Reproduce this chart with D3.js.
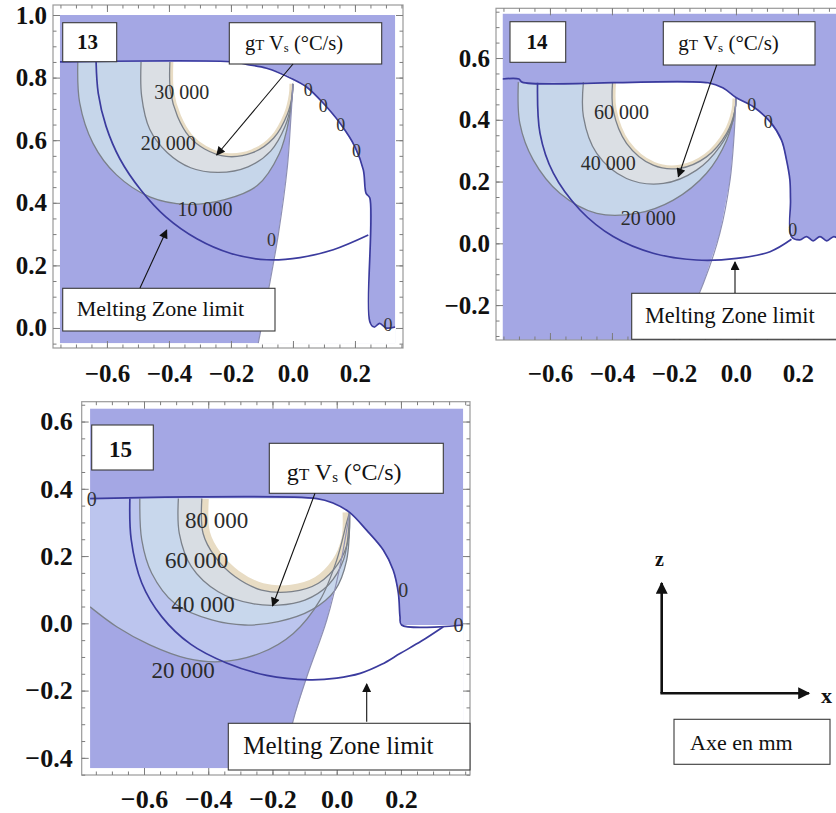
<!DOCTYPE html>
<html><head><meta charset="utf-8">
<script src="https://cdn.jsdelivr.net/npm/d3@7"></script>
<style>
body{margin:0;background:#fff}
svg text{font-family:"Liberation Serif","Tinos","DejaVu Serif","Noto Serif",serif !important;}
</style>
</head><body>
<svg id="c" width="836" height="813"></svg>
<script>
// ================= DATA (x, z in mm) =================
const xTicks = [-0.6, -0.4, -0.2, 0.0, 0.2];
const yTicks13 = [0.0, 0.2, 0.4, 0.6, 0.8, 1.0];
const yTicks14 = [-0.2, 0.0, 0.2, 0.4, 0.6];
const yTicks15 = [-0.4, -0.2, 0.0, 0.2, 0.4, 0.6];

// ---- panel 13 ----
const surface13 = [[-0.752,0.85],[-0.19,0.85]];
const cap13 = [[-0.19,0.85],[-0.149,0.842],[-0.085,0.83],[0.0,0.795]];
const rim13 = [[0.0,0.795],[0.044,0.77],[0.098,0.718],[0.152,0.654],[0.2,0.579],[0.227,0.505],[0.236,0.43],[0.248,0.415],[0.248,0.02],[0.262,0.003],[0.28,0.015],[0.3,0.0],[0.33,0.003]];
const diag13 = [[0.0,0.78],[-0.008,0.65],[-0.018,0.515],[-0.047,0.30],[-0.085,0.089],[-0.112,-0.049]];
const melt13 = [[-0.635,0.85],[-0.628,0.75],[-0.603,0.645],[-0.558,0.54],[-0.49,0.44],[-0.41,0.355],[-0.31,0.285],[-0.2,0.238],[-0.085,0.218],[0.023,0.225],[0.13,0.25],[0.243,0.297]];
const c13_10 = [[-0.694,0.85],[-0.688,0.72],[-0.645,0.59],[-0.57,0.49],[-0.46,0.418],[-0.343,0.395],[-0.22,0.41],[-0.115,0.455],[-0.045,0.555],[-0.012,0.67],[0.0,0.78]];
const c13_20 = [[-0.49,0.85],[-0.488,0.74],[-0.462,0.635],[-0.405,0.56],[-0.33,0.512],[-0.24,0.497],[-0.145,0.515],[-0.072,0.565],[-0.025,0.645],[-0.005,0.72],[0.0,0.78]];
const c13_30 = [[-0.397,0.85],[-0.395,0.755],[-0.372,0.675],[-0.335,0.612],[-0.285,0.572],[-0.215,0.548],[-0.13,0.56],[-0.062,0.607],[-0.018,0.683],[-0.002,0.745],[0.0,0.78]];
const levels13 = ["10 000","20 000","30 000"];
const levelPos13 = [[-0.284,0.379],[-0.402,0.59],[-0.359,0.755]];
const zeros13 = [[0.049,0.760],[0.098,0.709],[0.154,0.649],[0.205,0.566],[0.307,0.01],[-0.069,0.283]];

// ---- panel 14 ----
const surface14 = [[-0.753,0.532],[-0.70,0.532],[-0.69,0.522],[-0.09,0.52]];
const cap14 = [[-0.09,0.52],[-0.04,0.502],[0.0,0.472]];
const rim14 = [[0.0,0.472],[0.056,0.442],[0.11,0.394],[0.147,0.334],[0.163,0.27],[0.174,0.205],[0.176,0.14],[0.179,0.022],[0.206,0.011],[0.228,0.022],[0.249,0.008],[0.271,0.022],[0.293,0.008],[0.316,0.022],[0.34,0.01],[0.36,0.016]];
const diag14 = [[0.0,0.469],[-0.006,0.35],[-0.019,0.205],[-0.052,0.032],[-0.105,-0.129],[-0.159,-0.248],[-0.202,-0.318]];
const melt14 = [[-0.64,0.52],[-0.632,0.356],[-0.589,0.227],[-0.503,0.108],[-0.396,0.022],[-0.267,-0.032],[-0.127,-0.054],[0.002,-0.049],[0.11,-0.027],[0.179,0.013]];
const c14_20 = [[-0.702,0.522],[-0.697,0.388],[-0.654,0.27],[-0.568,0.162],[-0.449,0.097],[-0.32,0.097],[-0.202,0.14],[-0.095,0.227],[-0.03,0.334],[-0.003,0.431],[0.0,0.469]];
const c14_40 = [[-0.492,0.522],[-0.492,0.41],[-0.449,0.291],[-0.353,0.21],[-0.234,0.194],[-0.127,0.237],[-0.052,0.313],[-0.009,0.399],[0.0,0.469]];
const c14_60 = [[-0.398,0.522],[-0.396,0.431],[-0.353,0.324],[-0.267,0.253],[-0.181,0.243],[-0.095,0.28],[-0.03,0.356],[-0.003,0.431],[0.0,0.469]];
const levels14 = ["20 000","40 000","60 000"];
const levelPos14 = [[-0.283,0.081],[-0.412,0.259],[-0.369,0.426]];
const zeros14 = [[0.051,0.448],[0.104,0.394],[0.183,0.043],[-0.191,-0.305]];

// ---- panel 15 ----
const surface15 = [[-0.768,0.371],[-0.062,0.371]];
const cap15 = [[-0.062,0.371],[-0.01,0.357],[0.04,0.33]];
const rim15 = [[0.04,0.33],[0.093,0.277],[0.145,0.218],[0.176,0.158],[0.192,0.089],[0.197,0.02],[0.202,-0.005],[0.394,-0.005]];
const diag15 = [[0.04,0.33],[0.01,0.168],[-0.031,0.01],[-0.093,-0.159],[-0.135,-0.287],[-0.166,-0.431]];
const melt15 = [[-0.644,0.371],[-0.64,0.25],[-0.607,0.12],[-0.545,0.02],[-0.455,-0.062],[-0.343,-0.118],[-0.218,-0.155],[-0.085,-0.168],[0.0,-0.163],[0.073,-0.149],[0.14,-0.122],[0.197,-0.09],[0.265,-0.052],[0.332,-0.01]];
const c15_20 = [[-0.768,0.049],[-0.685,-0.01],[-0.582,-0.064],[-0.467,-0.104],[-0.364,-0.114],[-0.239,-0.089],[-0.135,-0.03],[-0.052,0.069],[0.0,0.188],[0.031,0.3],[0.04,0.33]];
const c15_40 = [[-0.613,0.371],[-0.607,0.248],[-0.576,0.149],[-0.504,0.059],[-0.389,0.01],[-0.286,-0.005],[-0.182,0.005],[-0.078,0.04],[-0.005,0.099],[0.031,0.188],[0.04,0.33]];
const c15_60 = [[-0.493,0.371],[-0.49,0.267],[-0.452,0.168],[-0.369,0.094],[-0.265,0.059],[-0.182,0.054],[-0.099,0.069],[-0.026,0.114],[0.021,0.188],[0.038,0.287],[0.04,0.33]];
const c15_80 = [[-0.42,0.371],[-0.416,0.267],[-0.379,0.198],[-0.317,0.139],[-0.234,0.099],[-0.14,0.094],[-0.057,0.119],[0.005,0.178],[0.036,0.248],[0.04,0.33]];
const levels15 = ["20 000","40 000","60 000","80 000"];
const levelPos15 = [[-0.478,-0.139],[-0.416,0.059],[-0.436,0.188],[-0.374,0.307]];
const zeros15 = [[-0.763,0.371],[0.207,0.099],[0.379,-0.005]];

// ================= STYLE / LAYOUT =================
const BG = "#a4a7e4", EDGE = "#3b3b9e", CLINE = "#7b818a", DIAG = "#8e90b4", BEIGE = "#e8dcc4";
const fmt = d3.format(".1f");

const panels = [
  { id:13, frame:{x0:53,x1:403,y0:5,y1:348}, xFrame:[-0.774,0.355], yFrame:[-0.064,1.032],
    xPlot:[-0.752,0.33], yPlot:[-0.049,1.0], yTicks:yTicks13, padL:6, padB:16, tickFont:25,
    surface:surface13, cap:cap13, rim:rim13, diag:diag13, melt:melt13,
    contours:[c13_10,c13_20,c13_30], fills:["#c6d6ea","#dbdfe4"], beigeW:3.5,
    levels:levels13, levelPos:levelPos13, zeros:zeros13, labFont:20, zeroFont:18 },
  { id:14, frame:{x0:496,x1:846,y0:8.3,y1:340}, xFrame:[-0.774,0.355], yFrame:[-0.313,0.761],
    xPlot:[-0.753,0.36], yPlot:[-0.313,0.744], yTicks:yTicks14, padL:6, padB:24, tickFont:25,
    surface:surface14, cap:cap14, rim:rim14, diag:diag14, melt:melt14,
    contours:[c14_20,c14_40,c14_60], fills:["#c6d6ea","#dbdfe4"], beigeW:3.5,
    levels:levels14, levelPos:levelPos14, zeros:zeros14, labFont:20, zeroFont:18 },
  { id:15, frame:{x0:81.7,x1:470,y0:401.7,y1:775}, xFrame:[-0.794,0.415], yFrame:[-0.451,0.659],
    xPlot:[-0.768,0.394], yPlot:[-0.431,0.639], yTicks:yTicks15, padL:9, padB:15, tickFont:26,
    surface:surface15, cap:cap15, rim:rim15, diag:diag15, melt:melt15,
    contours:[c15_20,c15_40,c15_60,c15_80], fills:["#bcc5ee","#c8d7ec","#d8dde3"], beigeW:7,
    levels:levels15, levelPos:levelPos15, zeros:zeros15, labFont:23, zeroFont:20 }
];

const svg = d3.select("#c");
const defs = svg.append("defs");
defs.append("marker").attr("id","ah").attr("viewBox","0 0 10 10").attr("refX",9).attr("refY",5)
  .attr("markerWidth",11).attr("markerHeight",9).attr("markerUnits","userSpaceOnUse").attr("orient","auto")
  .append("path").attr("d","M0,0L10,5L0,10Z").attr("fill","#111");
defs.append("marker").attr("id","ah2").attr("viewBox","0 0 10 10").attr("refX",9).attr("refY",5)
  .attr("markerWidth",15).attr("markerHeight",12).attr("markerUnits","userSpaceOnUse").attr("orient","auto")
  .append("path").attr("d","M0,0L10,5L0,10Z").attr("fill","#111");

function drawPanel(cfg){
  const g = svg.append("g");
  const f = cfg.frame;
  const x = d3.scaleLinear().domain(cfg.xFrame).range([f.x0, f.x1]);
  const y = d3.scaleLinear().domain(cfg.yFrame).range([f.y1, f.y0]);
  const curve = d3.line().x(d=>x(d[0])).y(d=>y(d[1])).curve(d3.curveCatmullRom.alpha(0.5));
  const lin = d3.line().x(d=>x(d[0])).y(d=>y(d[1]));

  const px0 = x(cfg.xPlot[0]), px1 = x(cfg.xPlot[1]), py0 = y(cfg.yPlot[1]), py1 = y(cfg.yPlot[0]);
  defs.append("clipPath").attr("id","plot"+cfg.id).append("rect")
    .attr("x",px0).attr("y",py0).attr("width",px1-px0).attr("height",py1-py0);
  defs.append("clipPath").attr("id","frame"+cfg.id).append("rect")
    .attr("x",f.x0).attr("y",f.y0).attr("width",f.x1-f.x0).attr("height",f.y1-f.y0);
  const pg = g.append("g").attr("clip-path",`url(#plot${cfg.id})`);
  pg.append("rect").attr("x",px0).attr("y",py0).attr("width",px1-px0).attr("height",py1-py0).attr("fill",BG);

  // white region right of the zero iso-line
  const xr = cfg.xPlot[1] + 0.05, yb = cfg.yPlot[0] - 0.05;
  const rl = cfg.rim[cfg.rim.length-1], dl = cfg.diag[cfg.diag.length-1];
  const region = cfg.rim.concat([[xr, rl[1]],[xr, yb],[dl[0], yb]], cfg.diag.slice().reverse());
  pg.append("path").attr("d", lin(region)+"Z").attr("fill","#fff");

  // contour band shapes
  const surfZ = cfg.cap[0][1];
  const capRev = cfg.cap.slice().reverse();
  const shape = c => curve(c.concat(capRev)) + `L${x(c[0][0])},${y(surfZ)}Z`;
  const n = cfg.contours.length;
  cfg.contours.forEach((c,i)=>{
    const fill = i < n-1 ? cfg.fills[i] : "#fff";
    pg.append("path").attr("d", shape(c)).attr("fill", fill);
  });
  // beige rim inside innermost contour
  const inner = cfg.contours[n-1];
  defs.append("clipPath").attr("id","inner"+cfg.id).append("path").attr("d", shape(inner));
  pg.append("path").attr("d", curve(inner)).attr("fill","none").attr("stroke",BEIGE)
    .attr("stroke-width", cfg.beigeW*2).attr("clip-path",`url(#inner${cfg.id})`);

  // iso-lines
  cfg.contours.forEach(c=>{
    pg.append("path").attr("d", curve(c)).attr("fill","none").attr("stroke",CLINE).attr("stroke-width",1.3);
  });
  pg.append("path").attr("d", curve(cfg.diag)).attr("fill","none").attr("stroke",DIAG).attr("stroke-width",1.2);
  pg.append("path").attr("d", curve(cfg.melt)).attr("fill","none").attr("stroke",EDGE).attr("stroke-width",1.7);
  const edge = cfg.surface.concat(cfg.cap.slice(1), cfg.rim.slice(1));
  pg.append("path").attr("d", curve(edge)).attr("fill","none").attr("stroke",EDGE).attr("stroke-width",1.7);

  // contour labels
  const lg = g.append("g").attr("clip-path",`url(#frame${cfg.id})`);
  cfg.levels.forEach((t,i)=>{
    lg.append("text").attr("x",x(cfg.levelPos[i][0])).attr("y",y(cfg.levelPos[i][1]))
      .attr("dy","0.35em").attr("text-anchor","middle")
      .attr("font-size",cfg.labFont).attr("fill","#2b2b2b").text(t);
  });
  cfg.zeros.forEach(p=>{
    lg.append("text").attr("x",x(p[0])).attr("y",y(p[1])).attr("dy","0.35em").attr("text-anchor","middle")
      .attr("font-size",cfg.zeroFont).attr("fill","#333").text("0");
  });

  // frame + axes
  g.append("rect").attr("x",f.x0).attr("y",f.y0).attr("width",f.x1-f.x0).attr("height",f.y1-f.y0)
    .attr("fill","none").attr("stroke","#9a9a9a").attr("stroke-width",1.2);
  const minX = d3.range(Math.ceil(cfg.xFrame[0]/0.05), Math.floor(cfg.xFrame[1]/0.05)+1).map(i=>+(i*0.05).toFixed(2));
  const minY = d3.range(Math.ceil(cfg.yFrame[0]/0.05), Math.floor(cfg.yFrame[1]/0.05)+1).map(i=>+(i*0.05).toFixed(2));
  const ax = (axis, tr) => {
    const a = g.append("g").attr("transform",tr).attr("color","#7d7d7d").call(axis);
    a.select(".domain").remove();
    a.selectAll("text").attr("font-weight","bold").attr("font-size",cfg.tickFont).attr("fill","#111");
    return a;
  };
  ax(d3.axisBottom(x).tickValues(minX).tickSize(-3.5).tickFormat(""), `translate(0,${f.y1})`);
  ax(d3.axisTop(x).tickValues(minX).tickSize(-3.5).tickFormat(""), `translate(0,${f.y0})`);
  ax(d3.axisLeft(y).tickValues(minY).tickSize(-3.5).tickFormat(""), `translate(${f.x0},0)`);
  ax(d3.axisRight(y).tickValues(minY).tickSize(-3.5).tickFormat(""), `translate(${f.x1},0)`);
  ax(d3.axisBottom(x).tickValues(xTicks).tickSize(-7).tickPadding(cfg.padB).tickFormat(fmt), `translate(0,${f.y1})`);
  ax(d3.axisTop(x).tickValues(xTicks).tickSize(-7).tickFormat(""), `translate(0,${f.y0})`);
  ax(d3.axisLeft(y).tickValues(cfg.yTicks).tickSize(-7).tickPadding(cfg.padL).tickFormat(fmt), `translate(${f.x0},0)`);
  ax(d3.axisRight(y).tickValues(cfg.yTicks).tickSize(-7).tickFormat(""), `translate(${f.x1},0)`);
}
panels.forEach(drawPanel);

// ================= ANNOTATIONS =================
function box(x,y,w,h){
  svg.append("rect").attr("x",x).attr("y",y).attr("width",w).attr("height",h)
    .attr("fill","#fff").attr("stroke","#3a3a3a").attr("stroke-width",1.1);
}
function txt(x,y,s,t,bold){
  return svg.append("text").attr("x",x).attr("y",y).attr("font-size",s)
    .attr("font-weight",bold?"bold":"normal").attr("fill","#111").text(t);
}
function gText(x,y,s){
  const t = svg.append("text").attr("x",x).attr("y",y).attr("font-size",s).attr("fill","#111");
  t.append("tspan").text("g");
  t.append("tspan").attr("font-size",s*0.72).text("T");
  t.append("tspan").text(" V");
  t.append("tspan").attr("font-size",s*0.62).attr("dy",2).text("s");
  t.append("tspan").attr("dy",-2).text(" (°C/s)");
}
function arrow(x1,y1,x2,y2,m,w){
  svg.append("line").attr("x1",x1).attr("y1",y1).attr("x2",x2).attr("y2",y2)
    .attr("stroke","#111").attr("stroke-width",w||1.1).attr("marker-end",`url(#${m||"ah"})`);
}
// panel 13
box(62.7,22.7,54,39); txt(77,48.5,21,"13",true);
box(229.3,22.7,152.4,41.3); gText(245,50,20.5);
box(62.7,288.3,212.3,42.7); txt(76.7,316,22,"Melting Zone limit");
arrow(293,64,216.7,155);
arrow(140,288,166.7,230);
// panel 14
box(510,21.7,55.7,40.6); txt(526.5,48.5,21,"14",true);
box(663.3,21.7,151.7,43.3); gText(678.3,50,21);
box(631.7,293.3,230,46); txt(645,323,22.3,"Melting Zone limit");
arrow(716.7,65,678.3,176.7);
arrow(735,293,735,262);
// panel 15
box(91.7,425,61.6,45); txt(109,457,23,"15",true);
box(269.3,443.3,174,50); gText(286.7,480,24);
box(228.3,723.3,241.7,46.7); txt(243.3,754,25,"Melting Zone limit");
arrow(315,493.3,272.5,606);
arrow(366.7,721.7,366.7,684);
// axis legend
arrow(661.7,693.3,661.7,583,"ah2",2.6);
arrow(660.4,693.3,809,693.3,"ah2",2.6);
txt(655,566,20,"z",true);
txt(821,703,22,"x",true);
box(674,719.3,156,45);
txt(690,750,22,"Axe en mm");
</script>
</body></html>
